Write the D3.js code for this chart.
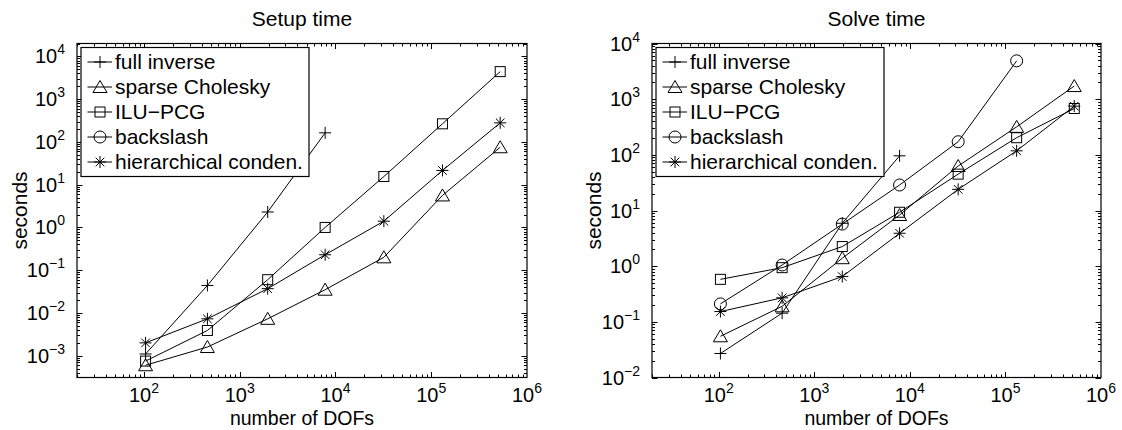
<!DOCTYPE html>
<html>
<head>
<meta charset="utf-8">
<script src="https://cdn.jsdelivr.net/npm/d3@7"></script>
<style>
  body { margin: 0; background: #fff; }
  svg text { font-family: "Liberation Sans", Arial, Helvetica, sans-serif; fill: #000; }
</style>
</head>
<body>
<div id="chart"></div>
<script>
// number of degrees of freedom (shared x values)
var dofs = [104, 460, 1960, 7800, 32000, 131000, 525000];

var seriesNames = ["full inverse", "sparse Cholesky", "ILU\u2212PCG", "backslash", "hierarchical conden."];
var markerKinds = ["plus", "triangle", "square", "circle", "star"];

// Setup time (seconds)
var setupFullInverse = [1.1e-3, 0.044, 2.3, 163];
var setupCholesky    = [6.0e-4, 1.6e-3, 7.3e-3, 0.035, 0.20, 5.6, 75];
var setupIlu         = [7.5e-4, 3.9e-3, 0.060, 1.0, 15.5, 265, 4400];
var setupBackslash   = [];
var setupHier        = [2.0e-3, 7.3e-3, 0.037, 0.23, 1.4, 21.5, 279];

// Solve time (seconds)
var solveFullInverse = [0.027, 0.143, 5.9, 96];
var solveCholesky    = [0.055, 0.19, 1.39, 8.3, 63, 318, 1720];
var solveIlu         = [0.58, 0.94, 2.25, 9.3, 45, 203, 680];
var solveBackslash   = [0.21, 1.05, 5.7, 28.7, 172, 4880];
var solveHier        = [0.153, 0.27, 0.65, 3.9, 24, 118, 750];

var xTicks = [1e2, 1e3, 1e4, 1e5, 1e6];
var setupYTicks = [1e-3, 1e-2, 1e-1, 1e0, 1e1, 1e2, 1e3, 1e4];
var solveYTicks = [1e-2, 1e-1, 1e0, 1e1, 1e2, 1e3, 1e4];

var W = 1122, H = 430;
var FS = 21;      // titles, legend
var TICK_FS = 20; // tick labels

var svg = d3.select("#chart").append("svg")
    .attr("width", W)
    .attr("height", H);

function superLabel(g, x, y, exp, anchor) {
    // "10" with a raised exponent
    var t = g.append("text")
        .attr("x", x)
        .attr("y", y)
        .attr("text-anchor", anchor)
        .style("font-size", TICK_FS + "px");
    t.append("tspan").text("10");
    t.append("tspan")
        .attr("dy", -9)
        .style("font-size", "14px")
        .text(exp < 0 ? "\u2212" + (-exp) : exp);
    return t;
}

function marker(g, kind, cx, cy) {
    var m = g.append("g").attr("transform", "translate(" + cx + "," + cy + ")")
        .attr("fill", "none").attr("stroke", "#000").attr("stroke-width", 1);
    if (kind == "plus") {
        m.append("path").attr("d", "M-6,0H6M0,-6V6");
    } else if (kind == "triangle") {
        m.append("path").attr("d", "M0,-6.5L7,5.5L-7,5.5Z");
    } else if (kind == "square") {
        m.append("rect").attr("x", -5).attr("y", -5).attr("width", 10).attr("height", 10);
    } else if (kind == "circle") {
        m.append("circle").attr("r", 6);
    } else if (kind == "star") {
        m.append("path").attr("d", "M-6,0H6M0,-6V6M-4.3,-4.3L4.3,4.3M-4.3,4.3L4.3,-4.3");
    }
}

function drawPanel(opt) {
    var x = d3.scaleLog().domain([20, 1e6]).range([opt.left, opt.right]);
    var y = d3.scaleLog().domain(opt.yDomain).range([opt.bottom, opt.top]);
    var g = svg.append("g");

    // title
    g.append("text")
        .attr("x", (opt.left + opt.right) / 2)
        .attr("y", 26)
        .attr("text-anchor", "middle")
        .style("font-size", FS + "px")
        .text(opt.title);

    // ticks (inside, on all four sides)
    var tg = g.append("g").attr("stroke", "#000").attr("stroke-width", 1);
    var xMinor = [];
    for (var e = 1; e < 6; e++)
        for (var k = 1; k < 10; k++) {
            var v = k * Math.pow(10, e);
            if (v >= 20 && v <= 1e6) xMinor.push(v);
        }
    xMinor.forEach(function(v) {
        var len = xTicks.indexOf(v) >= 0 ? 5.5 : 3;
        var px = Math.round(x(v)) + 0.5;
        tg.append("line").attr("x1", px).attr("x2", px).attr("y1", opt.bottom).attr("y2", opt.bottom - len);
        tg.append("line").attr("x1", px).attr("x2", px).attr("y1", opt.top).attr("y2", opt.top + len);
    });
    var yAll = [];
    var lo = Math.floor(Math.log10(opt.yDomain[0])), hi = Math.ceil(Math.log10(opt.yDomain[1]));
    for (var e2 = lo; e2 <= hi; e2++)
        for (var k2 = 1; k2 < 10; k2++) {
            var v2 = k2 * Math.pow(10, e2);
            if (v2 >= opt.yDomain[0] * 0.999 && v2 <= opt.yDomain[1] * 1.001) yAll.push(v2);
        }
    yAll.forEach(function(v) {
        var major = Math.abs(Math.log10(v) - Math.round(Math.log10(v))) < 1e-9;
        var len = major ? 5.5 : 3;
        var py = Math.round(y(v)) + 0.5;
        tg.append("line").attr("y1", py).attr("y2", py).attr("x1", opt.left).attr("x2", opt.left + len);
        tg.append("line").attr("y1", py).attr("y2", py).attr("x1", opt.right).attr("x2", opt.right - len);
    });

    // frame
    g.append("rect")
        .attr("x", opt.left).attr("y", opt.top)
        .attr("width", opt.right - opt.left).attr("height", opt.bottom - opt.top)
        .attr("fill", "none").attr("stroke", "#000").attr("stroke-width", 1.2);

    // tick labels
    xTicks.forEach(function(v) {
        superLabel(g, x(v), 402, Math.round(Math.log10(v)), "middle");
    });
    opt.yTicks.forEach(function(v) {
        superLabel(g, opt.left - 12, y(v) + 7, Math.round(Math.log10(v)), "end");
    });

    // axis labels
    g.append("text")
        .attr("x", (opt.left + opt.right) / 2)
        .attr("y", 425)
        .attr("text-anchor", "middle")
        .style("font-size", "19.5px")
        .text("number of DOFs");
    g.append("text")
        .attr("transform", "translate(" + opt.yLabelX + "," + ((opt.top + opt.bottom) / 2) + ") rotate(-90)")
        .attr("text-anchor", "middle")
        .style("font-size", FS + "px")
        .text("seconds");

    // data
    var line = d3.line()
        .x(function(d, i) { return x(dofs[i]); })
        .y(function(d) { return y(d); });
    var dg = g.append("g");
    opt.series.forEach(function(vals, si) {
        if (!vals.length) return;
        dg.append("path")
            .attr("d", line(vals))
            .attr("fill", "none")
            .attr("stroke", "#000")
            .attr("stroke-width", 1);
        vals.forEach(function(v, i) {
            marker(dg, markerKinds[si], x(dofs[i]), y(v));
        });
    });

    // legend
    var lg = g.append("g");
    var lx = opt.left + 4, ly = opt.top + 4;
    lg.append("rect")
        .attr("x", lx).attr("y", ly)
        .attr("width", 228).attr("height", 129)
        .attr("fill", "#fff").attr("stroke", "#000").attr("stroke-width", 1.2);
    seriesNames.forEach(function(name, i) {
        var cy = ly + 14.5 + i * 25;
        lg.append("line")
            .attr("x1", lx + 6.5).attr("x2", lx + 31)
            .attr("y1", cy).attr("y2", cy)
            .attr("stroke", "#000").attr("stroke-width", 1);
        marker(lg, markerKinds[i], lx + 19, cy);
        lg.append("text")
            .attr("x", lx + 34)
            .attr("y", cy + 7)
            .style("font-size", FS + "px")
            .text(name);
    });
}

drawPanel({
    title: "Setup time",
    left: 77, right: 527, top: 43.5, bottom: 377.5,
    yDomain: [3.1e-4, 2e4],
    yTicks: setupYTicks,
    yLabelX: 27,
    series: [setupFullInverse, setupCholesky, setupIlu, setupBackslash, setupHier]
});

drawPanel({
    title: "Solve time",
    left: 652, right: 1101, top: 43.5, bottom: 377.5,
    yDomain: [1e-2, 1e4],
    yTicks: solveYTicks,
    yLabelX: 601,
    series: [solveFullInverse, solveCholesky, solveIlu, solveBackslash, solveHier]
});
</script>
</body>
</html>
